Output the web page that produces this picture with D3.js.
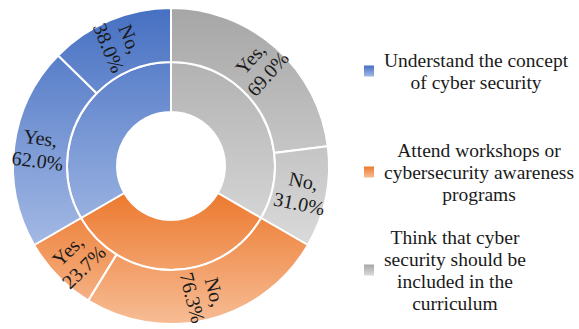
<!DOCTYPE html>
<html>
<head>
<meta charset="utf-8">
<script src="https://cdn.jsdelivr.net/npm/d3@7/dist/d3.min.js"></script>
<style>
  html, body { margin: 0; padding: 0; background: #fff; }
  svg { display: block; }
  text { font-family: "Liberation Serif", "Times New Roman", serif; fill: #1a1a1a; }
</style>
</head>
<body>
<svg id="chart" width="579" height="329"></svg>
<script>
// Survey questions (legend order) and their Yes / No shares in percent
const categories = [
  "Understand the concept of cyber security",
  "Attend workshops or cybersecurity awareness programs",
  "Think that cyber security should be included in the curriculum"
];
const legendLines = [
  ["Understand the concept", "of cyber security"],
  ["Attend workshops or", "cybersecurity awareness", "programs"],
  ["Think that cyber", "security should be", "included in the", "curriculum"]
];
const answerLabels = ["Yes", "No"];
const yesValues = [62.0, 23.7, 69.0];
const noValues  = [38.0, 76.3, 31.0];
// Ring order, clockwise from 12 o'clock (indices into categories)
const ringOrder = [2, 1, 0];

// Fill palette: dark top -> light bottom for each question
const colorTop    = ["#4670c2", "#ec7a2f", "#a6a6a6"];
const colorBottom = ["#a3b9e4", "#f7bc95", "#dadada"];

const svg = d3.select("#chart");
const cx = 171, cy = 166;
const rHole = 54, rMid = 104, rOuter = 158;
const labelR = 133;
const labelPx = 20, legendPx = 19.5;

const defs = svg.append("defs");
const rows = categories.map((name, i) => ({
  index: i,
  name,
  answers: [
    { label: answerLabels[0], value: yesValues[i] },
    { label: answerLabels[1], value: noValues[i] }
  ]
}));
const ordered = ringOrder.map(i => rows[i]);

const innerPie = d3.pie()
  .sort(null)
  .value(d => d3.sum(d.answers, a => a.value))
  .startAngle(0).endAngle(2 * Math.PI);
const innerArcs = innerPie(ordered);

const innerArc = d3.arc().innerRadius(rHole).outerRadius(rMid);
const outerArc = d3.arc().innerRadius(rMid).outerRadius(rOuter);

const root = svg.append("g").attr("transform", `translate(${cx},${cy})`);

// One group per question: inner segment plus its answer segments
const groups = root.selectAll("g.cat")
  .data(innerArcs)
  .join("g")
  .attr("class", "cat");

groups.append("path")
  .attr("class", "inner")
  .attr("d", innerArc);

const outerArcs = [];
groups.each(function(parent) {
  const sub = d3.pie()
    .sort((a, b) => b.value - a.value)
    .value(d => d.value)
    .startAngle(parent.startAngle)
    .endAngle(parent.endAngle)(parent.data.answers);
  sub.forEach(s => { s.cat = parent.data.index; outerArcs.push(s); });
  d3.select(this).selectAll("path.outer")
    .data(sub)
    .join("path")
    .attr("class", "outer")
    .attr("d", outerArc);
});

// Vertical gradient spanning each question's whole group
groups.each(function(d) {
  const bb = this.getBBox();
  const g = defs.append("linearGradient")
    .attr("id", "grad" + d.data.index)
    .attr("gradientUnits", "userSpaceOnUse")
    .attr("x1", 0).attr("x2", 0)
    .attr("y1", bb.y).attr("y2", bb.y + bb.height);
  g.append("stop").attr("offset", "0%").attr("stop-color", colorTop[d.data.index]);
  g.append("stop").attr("offset", "100%").attr("stop-color", colorBottom[d.data.index]);
  d3.select(this).selectAll("path")
    .attr("fill", `url(#grad${d.data.index})`)
    .attr("stroke", "#fff")
    .attr("stroke-width", 2);
});

// Radial data labels in the outer ring
const fmt = d3.format(".1f");
const lab = root.selectAll("g.lab")
  .data(outerArcs)
  .join("g")
  .attr("class", "lab")
  .attr("transform", d => {
    const a = (d.startAngle + d.endAngle) / 2;
    const deg = a * 180 / Math.PI;
    const x = labelR * Math.sin(a), y = -labelR * Math.cos(a);
    const rot = deg <= 180 ? deg - 90 : deg - 270;
    return `translate(${x},${y}) rotate(${rot})`;
  });
lab.append("text")
  .attr("text-anchor", "middle")
  .attr("dominant-baseline", "central")
  .style("font-size", labelPx + "px")
  .selectAll("tspan")
  .data(d => [d.data.label + ",", fmt(d.data.value) + "%"])
  .join("tspan")
  .attr("x", 0)
  .attr("y", (t, i) => (i - 0.5) * 23)
  .text(t => t);

// Legend
categories.forEach((c, i) => {
  const g = defs.append("linearGradient")
    .attr("id", "key" + i)
    .attr("x1", 0).attr("y1", 0).attr("x2", 0).attr("y2", 1);
  g.append("stop").attr("offset", "0%").attr("stop-color", colorTop[i]);
  g.append("stop").attr("offset", "100%").attr("stop-color", colorBottom[i]);
});
const legendCenters = [71, 172, 270];
const lineH = 22;
const legend = svg.append("g");
legendLines.forEach((lines, i) => {
  const g = legend.append("g");
  const top = legendCenters[i] - (lines.length - 1) * lineH / 2;
  const t = g.append("text")
    .attr("text-anchor", "middle")
    .attr("dominant-baseline", "central")
    .style("font-size", legendPx + "px");
  lines.forEach((ln, j) => {
    t.append("tspan").attr("y", top + j * lineH).text(ln);
  });
  // center each line within the widest line of the entry
  let w = 0;
  t.selectAll("tspan").each(function() { w = Math.max(w, this.getComputedTextLength()); });
  t.selectAll("tspan").attr("x", 384 + w / 2);
  g.append("rect")
    .attr("x", 364).attr("y", legendCenters[i] - 5.5)
    .attr("width", 10).attr("height", 11)
    .attr("fill", `url(#key${i})`);
});
</script>
</body>
</html>
